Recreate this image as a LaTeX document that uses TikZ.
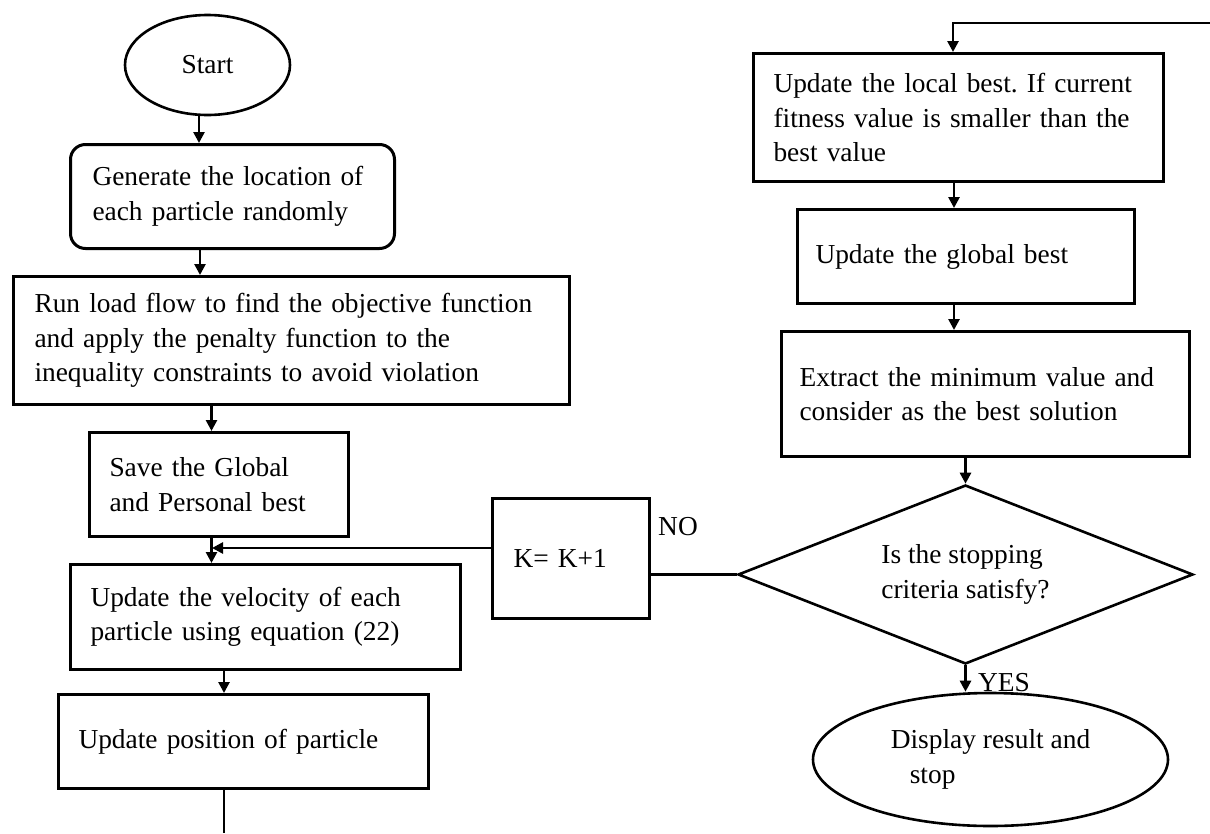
\documentclass[tikz,border=0pt]{standalone}
\usepackage{fontspec}
\setmainfont{Liberation Serif}
\usetikzlibrary{shapes.geometric,arrows.meta}
\frenchspacing
\hyphenpenalty=10000
\begin{document}
\begin{tikzpicture}[x=1pt,y=-1pt,
  font=\fontsize{27.4}{34.5}\selectfont,
  box/.style={draw, line width=3pt, rectangle, anchor=north west, align=left, inner ysep=0pt},
  term/.style={draw, line width=2.6pt, ellipse, inner sep=0pt, align=left},
  arr/.style={line width=2.6pt, -{Triangle[length=11pt,width=11pt]}},
  con/.style={line width=2.6pt}]
\useasboundingbox (0,0) rectangle (1210,833);

% nodes
\node[term, minimum width=165pt, minimum height=100pt] (start) at (207.5,65) {Start};
\node[box, rounded corners=15pt, minimum height=104pt, inner xsep=22pt, text width=280pt] (gen) at (69,143) {Generate the location of\\each particle randomly};
\node[box, minimum height=128pt, inner xsep=21pt, text width=514pt] (run) at (12,275) {Run load flow to find the objective function\\and apply the penalty function to the\\inequality constraints to avoid violation};
\node[box, minimum height=104pt, inner xsep=20pt, text width=219pt] (save) at (88,431) {Save the Global\\and Personal best};
\node[box, minimum height=105pt, inner xsep=20pt, text width=350pt] (vel) at (69,563) {Update the velocity of each\\particle using equation (22)};
\node[box, minimum height=94pt, inner xsep=20pt, text width=330pt] (pos) at (57,693) {Update position of particle};
\node[box, minimum height=120pt, inner xsep=21pt, text width=115pt] (k) at (491,497) {K= K+1};
\node[box, minimum height=128pt, inner xsep=20pt, text width=370pt] (lb) at (752,52) {Update the local best. If current\\fitness value is smaller than the\\best value};
\node[box, minimum height=94pt, inner xsep=18pt, text width=301pt] (gb) at (796,208) {Update the global best};
\node[box, minimum height=125pt, inner xsep=18pt, text width=372pt] (ex) at (780,330) {Extract the minimum value and\\consider as the best solution};
\node[draw, diamond, shape aspect=2.54, line width=2.6pt, minimum width=455pt, minimum height=179pt, inner sep=0pt, align=left] (dia) at (965.5,574.5) {Is the stopping\\criteria satisfy?};
\node[term, minimum width=355pt, minimum height=133pt] (disp) at (990.5,759.5) {Display result and\\\hspace*{19pt}stop};
\node (no) at (678,527) {NO};
\node (yes) at (1004,683) {YES};

% helper coordinates
\coordinate (x1) at (199,0);
\coordinate (x2) at (200,0);
\coordinate (x3) at (211.5,0);
\coordinate (kj) at (212,548);
\coordinate (x4) at (224,0);
\coordinate (bot) at (224,833);
\coordinate (tr) at (1210,23);
\coordinate (x5) at (953,0);
\coordinate (x6) at (954,0);

% connectors
\draw[arr] (x1 |- start.south) -- (x1 |- gen.north);
\draw[arr] (x2 |- gen.south) -- (x2 |- run.north);
\draw[arr] (x3 |- run.south) -- (x3 |- save.north);
\draw[arr] (x3 |- save.south) -- (x3 |- vel.north);
\draw[arr] (k.west |- kj) -- (kj);
\draw[con] (dia.west) -- (dia.west -| k.east);
\draw[arr] (x4 |- vel.south) -- (x4 |- pos.north);
\draw[con] (pos.south -| bot) -- (bot);
\draw[arr] (tr) -- (x5 |- tr) -- (x5 |- lb.north);
\draw[arr] (x6 |- lb.south) -- (x6 |- gb.north);
\draw[arr] (x6 |- gb.south) -- (x6 |- ex.north);
\draw[arr] (dia.north |- ex.south) -- (dia.north);
\draw[arr] (dia.south) -- (dia.south |- disp.north);
\end{tikzpicture}
\end{document}
